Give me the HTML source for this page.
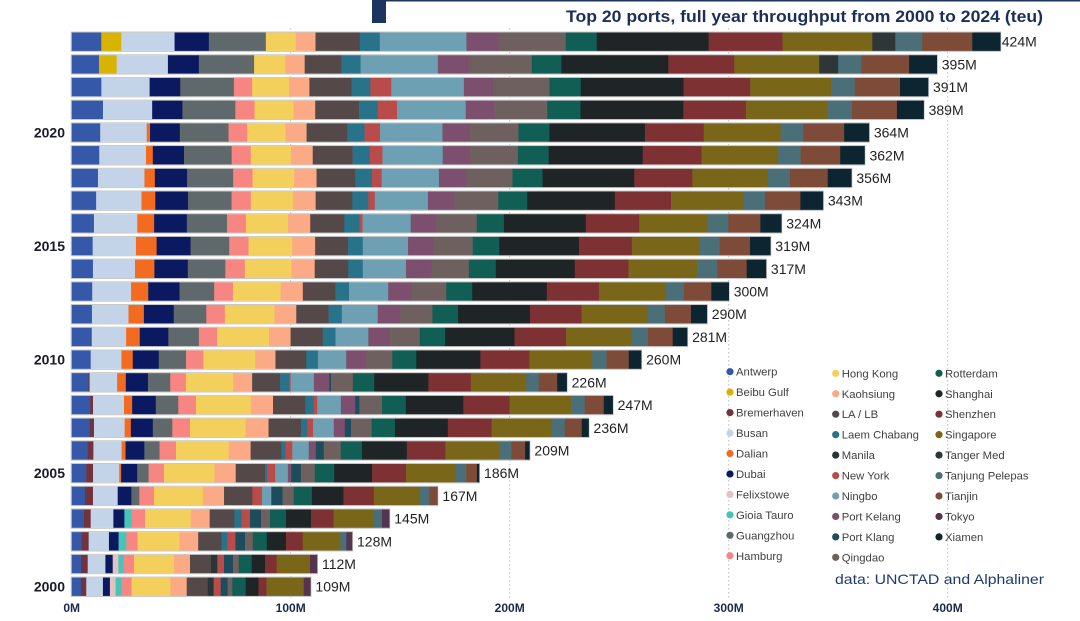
<!DOCTYPE html>
<html><head><meta charset="utf-8"><style>
html,body{margin:0;padding:0;background:#fff;}
svg{display:block;font-family:"Liberation Sans",sans-serif;}
</style></head><body>
<svg id="c" width="1080" height="621" viewBox="0 0 1080 621" xmlns="http://www.w3.org/2000/svg">
<rect x="372" y="0" width="14" height="23" fill="#1b355e"/>
<rect x="386" y="0" width="694" height="1.5" fill="#1b355e"/>
<text x="1043" y="22" text-anchor="end" font-size="17" font-weight="bold" fill="#1b2f5a" textLength="477" lengthAdjust="spacingAndGlyphs">Top 20 ports, full year throughput from 2000 to 2024 (teu)</text>
<g id="grid"></g><g id="bars"></g><g id="leg"></g>
<text x="835" y="584" font-size="14" fill="#1f3b6e" textLength="209" lengthAdjust="spacingAndGlyphs">data: UNCTAD and Alphaliner</text>
</svg>
<script>
(function(){
var NS="http://www.w3.org/2000/svg";
function el(t,a,txt,p){var e=document.createElementNS(NS,t);for(var k in a)e.setAttribute(k,a[k]);if(txt!=null)e.textContent=txt;p.appendChild(e);return e;}
var ports=[["A","Antwerp","#3558a8"],["BG","Beibu Gulf","#d8b300"],["Br","Bremerhaven","#71343f"],["Bu","Busan","#c3d4e8"],["Da","Dalian","#f26b21"],["Du","Dubai","#0b1a60"],["Fe","Felixstowe","#e3c2c4"],["Gi","Gioia Tauro","#45c4b8"],["Gz","Guangzhou","#5f696b"],["Ha","Hamburg","#f78683"],["HK","Hong Kong","#f3d05b"],["Ka","Kaohsiung","#fca985"],["LA","LA / LB","#544948"],["Lc","Laem Chabang","#28738a"],["Ma","Manila","#283636"],["NY","New York","#b94b4b"],["Nb","Ningbo","#6da0b2"],["PKe","Port Kelang","#7c4f6f"],["PKl","Port Klang","#1d4c5c"],["Qd","Qingdao","#6f6060"],["Ro","Rotterdam","#115f54"],["Sh","Shanghai","#1f2426"],["Sz","Shenzhen","#7e3133"],["Si","Singapore","#7a6619"],["TM","Tanger Med","#2f3638"],["TP","Tanjung Pelepas","#4a6f78"],["Ti","Tianjin","#7d4b37"],["To","Tokyo","#56344e"],["Xm","Xiamen","#0c2530"]];
var anch={
2024:{A:29.6,BG:20,Bu:53.3,Du:34.3,Gz:57,HK:30,Ka:19.7,LA:44.3,Lc:20,Nb:86.7,PKe:32,Qd:67.3,Ro:31,Sh:112,Sz:74,Si:89.7,TM:23,TP:27,Ti:50,Xm:28},
2023:{A:27.3,BG:17.7,Bu:51.3,Du:31,Gz:55.3,HK:31.3,Ka:19.3,LA:36.7,Lc:19.3,Nb:77.3,PKe:31,Qd:63,Ro:29.7,Sh:107,Sz:66,Si:85,TM:19,TP:23,Ti:48,Xm:27.7},
2022:{A:29.7,Bu:48.3,Du:30.7,Gz:53.7,Ha:18.3,HK:37,Ka:20.3,LA:42.3,Lc:18.7,NY:21,Nb:72.7,PKe:29,Qd:56.7,Ro:31.3,Sh:103,Sz:66.7,Si:81,TP:23.7,Ti:45.3,Xm:28},
2021:{A:31.3,Bu:49.3,Du:30.3,Gz:53,Ha:19.3,HK:39,Ka:21.7,LA:44,Lc:18.7,NY:19.3,Nb:68.7,PKe:29,Qd:52.7,Ro:33.3,Sh:103,Sz:62.7,Si:82.3,TP:24,Ti:45,Xm:26.7},
2015:{A:21,Bu:43.3,Da:20.7,Du:34,Gz:38.7,Ha:19.3,HK:43.7,Ka:23,LA:33,Lc:14.7,Nb:45.3,PKe:25.7,Qd:39,Ro:26.7,Sh:79.7,Sz:53,Si:68,TP:20,Ti:30.3,Xm:20.3},
2010:{A:19,Bu:30.7,Da:11.3,Du:26,Gz:27.3,Ha:17.3,HK:51.7,Ka:20.3,LA:30.7,Lc:11.7,Nb:28.3,PKe:20,Qd:26,Ro:24,Sh:64,Sz:49,Si:62.7,TP:14.3,Ti:22.3,Xm:12.3},
2004:{A:13.3,Br:8,Bu:24.7,Du:13.7,Gz:8,Ha:14.7,HK:49,Ka:21,LA:28.3,NY:9.7,Nb:9.3,PKl:11.3,Qd:11,Ro:18.3,Sh:31.7,Sz:30.3,Si:46,TP:9.3,Ti:8.3},
2003:{A:12.3,Br:6.7,Bu:22.7,Du:11,Gi:7.3,Ha:13.3,HK:45.7,Ka:19,LA:24.7,Lc:7.3,NY:8.3,PKl:11,Qd:9,Ro:16,Sh:25,Sz:22.7,Si:40.3,TP:8,To:7.3},
2002:{A:10,Br:7,Bu:20.3,Du:9.7,Gi:7.7,Ha:11.3,HK:42,Ka:18.7,LA:23.3,Lc:6,NY:8,PKl:9.7,Qd:7.7,Ro:14,Sh:19.3,Sz:16.7,Si:37.7,TP:6,To:5.7},
2001:{A:9.3,Br:6.7,Bu:17.7,Du:7.3,Fe:5.7,Gi:5.3,Ha:10.3,HK:40,Ka:16,LA:21,Ma:6.3,NY:6.7,PKl:9,Qd:5.7,Ro:13,Sh:13.3,Sz:11.7,Si:33.3,To:7},
2000:{A:9.3,Br:5.3,Bu:16.7,Du:7,Fe:5.7,Gi:6,Ha:10,HK:39,Ka:16.3,LA:21,Ma:6,NY:7,PKl:7,Qd:4.7,Ro:13.3,Sh:13,Sz:8,Si:37.3,To:6.7}};
var tot={2024:424,2023:395,2022:391,2021:389,2020:364,2019:362,2018:356,2017:343,2016:324,2015:319,2014:317,2013:300,2012:290,2011:281,2010:260,2009:226,2008:247,2007:236,2006:209,2005:186,2004:167,2003:145,2002:128,2001:112,2000:109};
var ak=Object.keys(anch).map(Number).sort(function(a,b){return a-b;});
function row(y){
 if(anch[y])return anch[y];
 var lo=2000,hi=2024;for(var i=0;i<ak.length;i++){if(ak[i]<y)lo=ak[i];if(ak[i]>y){hi=ak[i];break;}}
 var t=(y-lo)/(hi-lo),r={};
 ports.forEach(function(p){var v=(anch[lo][p[0]]||0)*(1-t)+(anch[hi][p[0]]||0)*t;if(v>0.5)r[p[0]]=v;});
 return r;}
var X0=71.7,S=2.19;
var g=document.getElementById("grid");
[100,200,300,400].forEach(function(v){var x=X0+v*S;el("line",{x1:x,x2:x,y1:28,y2:598,stroke:"#bdbdbd","stroke-width":1,"stroke-dasharray":"1.5,2.5"},null,g);});
[0,100,200,300,400].forEach(function(v){el("text",{x:X0+v*S,y:612,"text-anchor":"middle","font-size":12,"font-weight":"bold",fill:"#1b2a4a"},v+"M",g);});
var b=document.getElementById("bars");
for(var i=0;i<25;i++){
 var yr=2024-i,cy=41.7+i*22.71,ty=cy-9.2,r=row(yr),sum=0;
 for(var k in r)sum+=r[k];
 var W=tot[yr]*S,sc=W/sum,x=X0;
 el("rect",{x:X0-0.5,y:ty-0.5,width:W+1,height:19.4,fill:"none",stroke:"#c8c8c8","stroke-width":1},null,b);
 ports.forEach(function(p){if(r[p[0]]){var w=r[p[0]]*sc;el("rect",{x:x,y:ty,width:w+0.3,height:18.4,fill:p[2]},null,b);x+=w;}});
 el("text",{x:X0+W+(i==0?1.5:5),y:cy+5,"font-size":14,fill:"#222"},tot[yr]+"M",b);
 if(yr%5==0)el("text",{x:65,y:cy+5,"text-anchor":"end","font-size":14,"font-weight":"bold",fill:"#1a1a2a"},yr,b);
}
var L=document.getElementById("leg");
var cols=[[730,736,371.7],[835.7,841.7,373.3],[939,945,373.3]];
ports.forEach(function(p,j){var c=Math.floor(j/10),rr=j%10,cc=cols[c],yy=cc[2]+rr*20.45;
 el("circle",{cx:cc[0],cy:yy,r:3.6,fill:p[2]},null,L);
 el("text",{x:cc[1],y:yy+4,"font-size":11.3,fill:"#404040"},p[1],L);});
})();
</script>
</body></html>
